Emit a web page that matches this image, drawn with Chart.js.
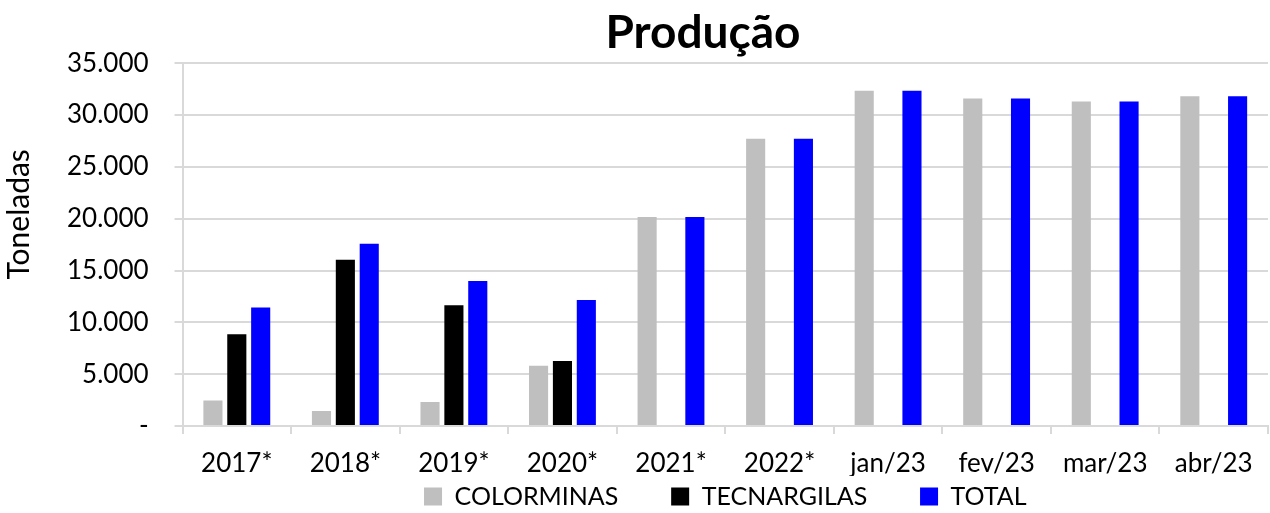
<!DOCTYPE html>
<html>
<head>
<meta charset="utf-8">
<script src="https://cdn.jsdelivr.net/npm/chart.js@4"></script>
<style>
  html, body { margin: 0; padding: 0; background: #fff; }
  #wrap { width: 1270px; height: 513px; }
</style>
</head>
<body>
<div id="wrap"><canvas id="chart-area" width="1270" height="513"></canvas></div>
<script>
var labels = ['2017*', '2018*', '2019*', '2020*', '2021*', '2022*', 'jan/23', 'fev/23', 'mar/23', 'abr/23'];
var colorminas = [2450, 1450, 2320, 5820, 20170, 27700, 32340, 31600, 31300, 31820];
var tecnargilas = [8850, 16050, 11650, 6270, null, null, null, null, null, null];
var total = [11420, 17570, 14000, 12160, 20170, 27700, 32340, 31600, 31300, 31820];

var fontName = 'Lato, "Open Sans", sans-serif';
var nb = function(n) { return '\u00a0'.repeat(n); };

function fmt(v) {
    if (v === 0) return '-';
    return String(v).replace(/\B(?=(\d{3})+(?!\d))/g, '.');
}

var config = {
    type: 'bar',
    data: {
        labels: labels,
        datasets: [{
            label: 'COLORMINAS',
            data: colorminas,
            backgroundColor: '#bfbfbf'
        }, {
            label: 'TECNARGILAS',
            data: tecnargilas,
            backgroundColor: '#000000'
        }, {
            label: 'TOTAL',
            data: total,
            backgroundColor: '#0000ff'
        }]
    },
    options: {
        responsive: false,
        animation: false,
        layout: { padding: { left: 1, right: 2, top: 0, bottom: -6 } },
        datasets: {
            bar: { categoryPercentage: 0.66, barPercentage: 0.8 }
        },
        plugins: {
            title: {
                display: true,
                // trailing spaces nudge the centred title a bit to the left, like the original
                text: 'Produção' + nb(4),
                color: '#000',
                fullSize: false,
                font: { family: fontName, size: 46, weight: 'bold' },
                padding: { top: 6, bottom: 2 }
            },
            legend: {
                position: 'bottom',
                fullSize: false,
                labels: {
                    color: '#000',
                    boxWidth: 18,
                    boxHeight: 18,
                    padding: 8,
                    font: { family: fontName, size: 25, lineHeight: 1 },
                    generateLabels: function(chart) {
                        var items = Chart.defaults.plugins.legend.labels.generateLabels(chart);
                        items.forEach(function(it, i) {
                            if (i < items.length - 1) it.text = it.text + nb(7);
                        });
                        return items;
                    }
                }
            },
            tooltip: { enabled: false }
        },
        scales: {
            x: {
                grid: {
                    offset: true,
                    drawOnChartArea: false,
                    color: '#d9d9d9',
                    lineWidth: 2,
                    tickLength: 8
                },
                border: { color: '#d9d9d9', width: 2 },
                ticks: {
                    color: '#000',
                    maxRotation: 0,
                    padding: 17,
                    font: { family: fontName, size: 26, lineHeight: 1 }
                },
                afterFit: function(scale) { scale.height = 50; }
            },
            y: {
                min: 0,
                max: 35000,
                grid: {
                    color: '#d9d9d9',
                    lineWidth: 2,
                    tickLength: 8
                },
                border: { color: '#d9d9d9', width: 2 },
                ticks: {
                    stepSize: 5000,
                    color: '#000',
                    padding: 26,
                    font: { family: fontName, size: 26 },
                    callback: function(v) { return fmt(v); }
                },
                title: {
                    display: true,
                    text: nb(8) + 'Toneladas',
                    color: '#000',
                    font: { family: fontName, size: 30 },
                    padding: { top: 0, bottom: 4 }
                }
            }
        }
    }
};

var ctx = document.getElementById('chart-area').getContext('2d');
window.myBar = new Chart(ctx, config);
</script>
</body>
</html>
